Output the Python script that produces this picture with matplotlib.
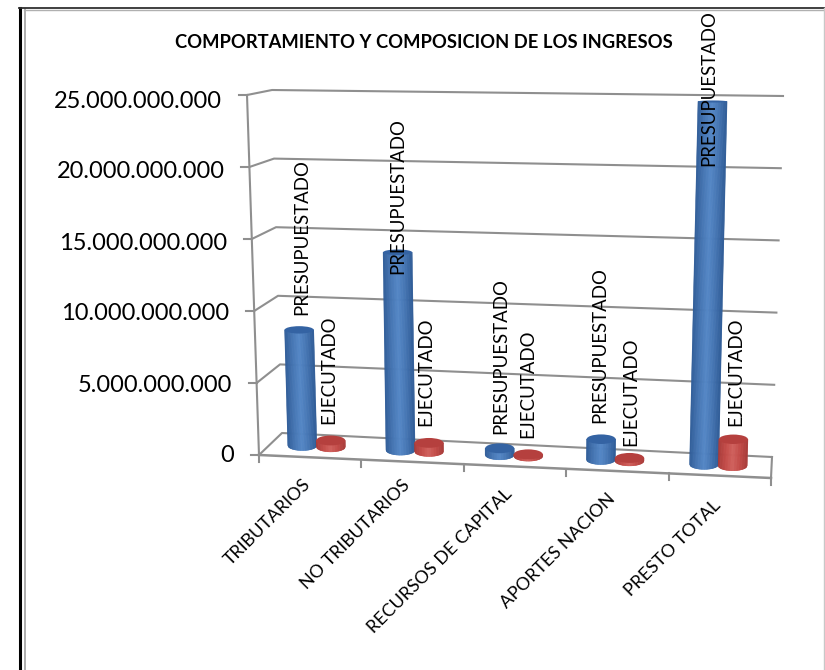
import numpy as np
import matplotlib
matplotlib.use("Agg")
import matplotlib.pyplot as plt
from matplotlib.collections import PolyCollection
from matplotlib.colors import LinearSegmentedColormap
from matplotlib.patches import Ellipse

categorias = ['TRIBUTARIOS', 'NO TRIBUTARIOS', 'RECURSOS DE CAPITAL', 'APORTES NACION', 'PRESTO TOTAL']
presupuestado = [8.2e9, 13.9e9, 0.45e9, 1.4e9, 24.8e9]
ejecutado = [0.45e9, 0.6e9, 0.12e9, 0.2e9, 1.8e9]
y_ticks = [0, 5e9, 10e9, 15e9, 20e9, 25e9]
y_max = 25e9

# layout only: where each pair of bars sits along the floor (0-1)
pair_pos = [0.092, 0.288, 0.486, 0.688, 0.894]
# how far above the bar top each data label starts, and its sideways nudge (px)
lift_pres = [15, -22, 14, 16, -65]
lift_ejec = [16, 17, 16, 12, 13]
nudge_pres = [3, 0, 1, -1, -4]
nudge_ejec = [-2, -3, -1, 1, 2]
# top right end of each category label (px)
cat_ends = [(314, 476), (413, 477), (515, 486), (618, 491), (724, 497)]

plt.rcParams['font.family'] = ['Lato', 'DejaVu Sans']

fig = plt.figure(figsize=(8.25, 6.7), dpi=100)
ax = fig.add_axes([0, 0, 1, 1])
ax.set_xlim(0, 825)
ax.set_ylim(670, 0)
ax.axis('off')

# the 3D box corners in px: floor and top, front and back
FL0, FR0, BL0, BR0 = np.array([259, 455.]), np.array([771, 478.]), np.array([282, 433.]), np.array([772, 457.])
FL1, FR1, BL1, BR1 = np.array([247, 95.]), np.array([783, 103.]), np.array([272, 90.]), np.array([783, 96.])


def project(u, d, v):
    # u along categories 0-1, d depth 0-1, v value
    f0 = FL0 + (FR0 - FL0) * u
    b0 = BL0 + (BR0 - BL0) * u
    f1 = FL1 + (FR1 - FL1) * u
    b1 = BL1 + (BR1 - BL1) * u
    p0 = f0 + (b0 - f0) * d
    p1 = f1 + (b1 - f1) * d
    return p0 + (p1 - p0) * (v / y_max)


grid_c = '#8f8f8f'
for v in y_ticks:
    a = project(0, 0, v)
    b = project(0, 1, v)
    c = project(1, 1, v)
    ax.plot([a[0], b[0], c[0]], [a[1], b[1], c[1]], color=grid_c, lw=1.5, zorder=1)
    ax.plot([a[0] - 8, a[0]], [a[1], a[1]], color=grid_c, lw=1.5, zorder=1)
    txt = f'{int(v):,}'.replace(',', '.')
    ax.text(a[0] - 25, a[1] + 1 + 5 * v / y_max, txt, ha='right', va='center', fontsize=17, color='black', zorder=6)

a, b = project(0, 0, 0), project(0, 0, y_max)
ax.plot([a[0], b[0]], [a[1], b[1]], color=grid_c, lw=1.5, zorder=1)
a, b = project(0, 0, 0), project(1, 0, 0)
ax.plot([a[0], b[0]], [a[1], b[1]], color=grid_c, lw=1.8, zorder=1)
a, b = project(1, 0, 0), project(1, 1, 0)
ax.plot([a[0], b[0]], [a[1], b[1]], color=grid_c, lw=1.5, zorder=1)
for i in range(len(categorias) + 1):
    a = project(i / len(categorias), 0, 0)
    ax.plot([a[0], a[0]], [a[1], a[1] + 7], color=grid_c, lw=1.5, zorder=1)


def cylinder(u, v, dark, mid, light, top_c, z):
    half = 14.5
    bot = project(u, 0.5, 0)
    top = project(u, 0.5, v)
    e_b = 5.0
    e_t = 10 - 8 * v / y_max
    ts = np.linspace(-1, 1, 41)
    polys, cols = [], []
    cmap = LinearSegmentedColormap.from_list('c', [dark, mid, light, mid, dark])
    for t0, t1 in zip(ts[:-1], ts[1:]):
        polys.append([
            (bot[0] + t0 * half, bot[1] + e_b * np.sqrt(1 - t0 ** 2)),
            (bot[0] + t1 * half, bot[1] + e_b * np.sqrt(1 - t1 ** 2)),
            (top[0] + t1 * half, top[1]),
            (top[0] + t0 * half, top[1]),
        ])
        cols.append(cmap((t0 + t1) / 4 + 0.5))
    ax.add_collection(PolyCollection(polys, facecolors=cols, edgecolors=cols, linewidths=0.4, zorder=z))
    ax.add_patch(Ellipse(top, 2 * half, e_t, facecolor=top_c, edgecolor='none', zorder=z + 0.1))
    return top


for i in range(len(categorias)):
    u = pair_pos[i]
    t = cylinder(u - 0.0285, presupuestado[i], '#2f5c97', '#4474b2', '#5487c6', '#3463a3', 3)
    ax.text(t[0] + nudge_pres[i], t[1] - lift_pres[i], 'PRESUPUESTADO', rotation=90, ha='center', va='bottom',
            fontsize=13.4, color='black', zorder=6)
    t = cylinder(u + 0.0285, ejecutado[i], '#a83b39', '#c24a47', '#d0605c', '#b5403e', 3.5)
    ax.text(t[0] + nudge_ejec[i], t[1] - lift_ejec[i], 'EJECUTADO', rotation=90, ha='center', va='bottom',
            fontsize=13.4, color='black', zorder=6)

for name, end in zip(categorias, cat_ends):
    ax.text(end[0], end[1], name, rotation=45, ha='right', va='top',
            fontsize=12.9, color='black', zorder=6)

ax.text(424, 43, 'COMPORTAMIENTO Y COMPOSICION DE LOS INGRESOS', ha='center', va='center',
        fontsize=13.2, fontweight='bold', color='black', zorder=6)

# page border round the chart
ax.plot([20, 20], [8, 670], color='black', lw=2.2, zorder=7)
ax.plot([24.5, 24.5], [9, 670], color='#a0a0a0', lw=1.2, zorder=7)
ax.plot([19, 825], [8, 8], color='#303030', lw=1.3, zorder=7)
ax.plot([24, 825], [10, 10], color='#b0b0b0', lw=1, zorder=7)
ax.plot([824, 824], [8, 670], color='#c8c8c8', lw=1, zorder=7)

fig.savefig('out.png', dpi=100)
